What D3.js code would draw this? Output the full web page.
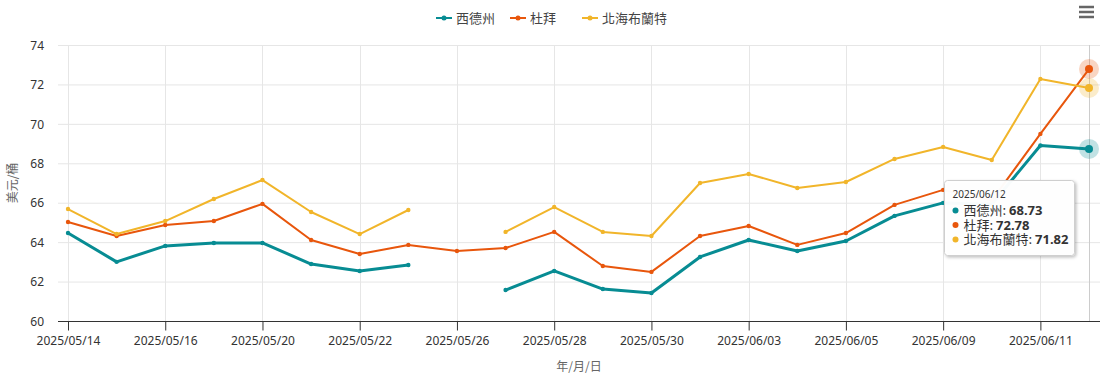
<!DOCTYPE html>
<html>
<head>
<meta charset="utf-8">
<script src="https://cdn.jsdelivr.net/npm/d3@7"></script>
<style>
  html, body { margin: 0; padding: 0; background: #fff; }
  svg { display: block; font-family: "Noto Sans", "Noto Sans CJK TC", sans-serif; }
</style>
</head>
<body>
<svg id="chart" width="1109" height="380"></svg>
<script>
const categories = ["2025/05/14","2025/05/15","2025/05/16","2025/05/19","2025/05/20","2025/05/21","2025/05/22","2025/05/23","2025/05/26","2025/05/27","2025/05/28","2025/05/29","2025/05/30","2025/06/02","2025/06/03","2025/06/04","2025/06/05","2025/06/06","2025/06/09","2025/06/10","2025/06/11","2025/06/12"];
const wti   = [64.46, 63.00, 63.81, 63.96, 63.96, 62.89, 62.54, 62.84, null, 61.57, 62.54, 61.62, 61.42, 63.25, 64.11, 63.55, 64.06, 65.33, 65.99, 65.92, 68.90, 68.73];
const dubai = [65.02, 64.31, 64.87, 65.07, 65.94, 64.11, 63.40, 63.86, 63.55, 63.70, 64.52, 62.79, 62.49, 64.31, 64.82, 63.86, 64.46, 65.89, 66.65, 66.12, 69.49, 72.78];
const brent = [65.68, 64.41, 65.07, 66.19, 67.15, 65.53, 64.41, 65.63, null, 64.52, 65.78, 64.52, 64.31, 67.00, 67.46, 66.75, 67.05, 68.22, 68.83, 68.17, 72.28, 71.82];
const seriesNames = ["西德州", "杜拜", "北海布蘭特"];
const seriesColors = ["#078c93", "#e8560c", "#f1b52a"];
const seriesWidths = [3, 2, 2];
const yTicks = [60, 62, 64, 66, 68, 70, 72, 74];
const xTickLabels = ["2025/05/14","2025/05/16","2025/05/20","2025/05/22","2025/05/26","2025/05/28","2025/05/30","2025/06/03","2025/06/05","2025/06/09","2025/06/11"];
const yTitle = "美元/桶";
const xTitle = "年/月/日";
const hoverIndex = 21;

const series = [wti, dubai, brent].map((v, i) => ({ name: seriesNames[i], values: v, color: seriesColors[i], width: seriesWidths[i] }));

const svg = d3.select("#chart");
const plot = { left: 58, right: 1100, top: 45, bottom: 321 };

const x = d3.scalePoint().domain(categories).range([68, 1089]);
const y = d3.scaleLinear().domain([60, 74]).range([plot.bottom, plot.top]);

// grid lines
const grid = svg.append("g");
grid.selectAll("line.h").data(yTicks).join("line")
  .attr("x1", plot.left).attr("x2", plot.right)
  .attr("y1", d => y(d) + 0.5).attr("y2", d => y(d) + 0.5)
  .attr("stroke", "#e6e6e6").attr("stroke-width", 1);
grid.selectAll("line.v").data(xTickLabels).join("line")
  .attr("x1", d => Math.round(x(d)) + 0.5).attr("x2", d => Math.round(x(d)) + 0.5)
  .attr("y1", plot.top).attr("y2", plot.bottom)
  .attr("stroke", "#e6e6e6").attr("stroke-width", 1);

// crosshair
svg.append("line")
  .attr("x1", Math.round(x(categories[hoverIndex])) + 0.5).attr("x2", Math.round(x(categories[hoverIndex])) + 0.5)
  .attr("y1", plot.top).attr("y2", plot.bottom)
  .attr("stroke", "#cccccc").attr("stroke-width", 1);

// y axis (labels only)
const yAxis = d3.axisLeft(y).tickValues(yTicks).tickSize(0).tickPadding(0);
const yg = svg.append("g").attr("transform", `translate(44,0)`).call(yAxis);
yg.select(".domain").remove();
yg.selectAll("text").attr("font-size", 12).attr("fill", "#333").attr("font-family", "\"Noto Sans\", sans-serif").attr("dy", "0.35em");

// x axis
const xAxis = d3.axisBottom(x).tickValues(xTickLabels).tickSize(9).tickPadding(6);
const xg = svg.append("g").attr("transform", `translate(0,${plot.bottom + 0.5})`).call(xAxis);
xg.select(".domain").attr("d", `M${plot.left},0H${plot.right}`).attr("stroke", "#333");
xg.selectAll(".tick line").attr("stroke", "#333");
xg.selectAll("text").attr("font-size", 12).attr("fill", "#333").attr("font-family", "\"Noto Sans\", sans-serif");

// axis titles
svg.append("text")
  .attr("x", (plot.left + plot.right) / 2).attr("y", 371)
  .attr("text-anchor", "middle").attr("font-size", 12).attr("fill", "#666")
  .attr("font-family", "\"Noto Sans CJK TC\", sans-serif")
  .text(xTitle);
svg.append("text")
  .attr("transform", `translate(17,${(plot.top + plot.bottom) / 2}) rotate(-90)`)
  .attr("text-anchor", "middle").attr("font-size", 12).attr("fill", "#666")
  .attr("font-family", "\"Noto Sans CJK TC\", sans-serif")
  .text(yTitle);

// lines
const line = d3.line()
  .defined(d => d != null)
  .x((d, i) => x(categories[i]))
  .y(d => y(d));

const sg = svg.append("g");
series.forEach(s => {
  sg.append("path")
    .attr("d", line(s.values))
    .attr("fill", "none")
    .attr("stroke", s.color)
    .attr("stroke-width", s.width)
    .attr("stroke-linejoin", "round")
    .attr("stroke-linecap", "round");
  sg.selectAll(null).data(s.values.map((v, i) => ({ v, i })).filter(d => d.v != null && d.i !== hoverIndex))
    .join("circle")
    .attr("cx", d => x(categories[d.i]))
    .attr("cy", d => y(d.v))
    .attr("r", 2.2)
    .attr("fill", s.color);
});

// hover halos and markers
series.forEach(s => {
  const v = s.values[hoverIndex];
  sg.append("circle").attr("cx", x(categories[hoverIndex])).attr("cy", y(v)).attr("r", 10)
    .attr("fill", s.color).attr("fill-opacity", 0.25);
});
series.forEach(s => {
  const v = s.values[hoverIndex];
  sg.append("circle").attr("cx", x(categories[hoverIndex])).attr("cy", y(v)).attr("r", 4)
    .attr("fill", s.color);
});

// legend
const legendItems = [
  { sx: 436, tx: 456 },
  { sx: 510, tx: 530 },
  { sx: 582, tx: 602 }
];
const lg = svg.append("g");
series.forEach((s, i) => {
  const it = legendItems[i];
  lg.append("line").attr("x1", it.sx).attr("x2", it.sx + 16).attr("y1", 18).attr("y2", 18)
    .attr("stroke", s.color).attr("stroke-width", 2);
  lg.append("circle").attr("cx", it.sx + 8).attr("cy", 18).attr("r", 2.5).attr("fill", s.color);
  lg.append("text").attr("x", it.tx).attr("y", 22.5)
    .attr("font-size", 13).attr("fill", "#444")
    .attr("font-family", "\"Noto Sans CJK TC\", sans-serif")
    .text(s.name);
});

// hamburger menu
const menu = svg.append("g");
[7, 12, 17].forEach(yy => {
  menu.append("line").attr("x1", 1079).attr("x2", 1094).attr("y1", yy).attr("y2", yy)
    .attr("stroke", "#666").attr("stroke-width", 2.5);
});

// tooltip
const defs = svg.append("defs");
const f = defs.append("filter").attr("id", "shadow").attr("x", "-20%").attr("y", "-20%").attr("width", "150%").attr("height", "150%");
f.append("feDropShadow").attr("dx", 1.5).attr("dy", 1.5).attr("stdDeviation", 1.5).attr("flood-color", "#000").attr("flood-opacity", 0.25);

const tt = svg.append("g").attr("transform", "translate(944.5,180.5)");
tt.append("rect").attr("width", 130).attr("height", 75).attr("rx", 3)
  .attr("fill", "#fff").attr("fill-opacity", 0.97).attr("stroke", "#cfcfcf").attr("stroke-width", 1)
  .attr("filter", "url(#shadow)");
tt.append("text").attr("x", 8).attr("y", 17.5).attr("font-size", 10).attr("fill", "#333")
  .attr("font-family", "\"Noto Sans\", sans-serif")
  .text(categories[hoverIndex]);
series.forEach((s, i) => {
  const ry = 30 + i * 14.5;
  tt.append("circle").attr("cx", 11).attr("cy", ry).attr("r", 3).attr("fill", s.color);
  const t = tt.append("text").attr("x", 19).attr("y", ry + 4.5).attr("font-size", 13).attr("fill", "#333")
    .attr("font-family", "\"Noto Sans CJK TC\", sans-serif");
  t.append("tspan").text(s.name + ": ");
  t.append("tspan").attr("font-weight", "bold").attr("font-family", "\"Noto Sans\", \"Noto Sans CJK TC\", sans-serif")
    .text(s.values[hoverIndex].toFixed(2));
});
</script>
</body>
</html>
